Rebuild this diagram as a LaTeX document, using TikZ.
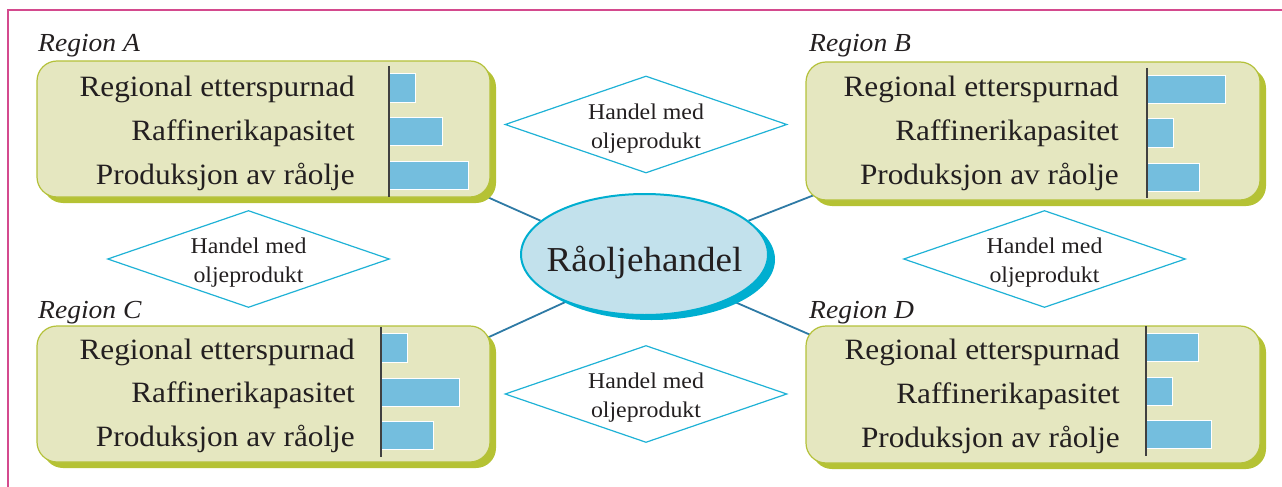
\documentclass[tikz,border=0pt]{standalone}
\usepackage{fontspec}
\setmainfont{Liberation Serif}[FakeStretch=1.06]
\usetikzlibrary{shapes.geometric,shadows,backgrounds}
\definecolor{framec}{RGB}{212,74,142}
\definecolor{boxfill}{RGB}{229,231,192}
\definecolor{boxline}{RGB}{180,193,58}
\definecolor{boxshadow}{RGB}{181,194,52}
\definecolor{barfill}{RGB}{116,190,222}
\definecolor{ellfill}{RGB}{194,225,236}
\definecolor{ellline}{RGB}{0,174,208}
\definecolor{connc}{RGB}{46,122,165}
\definecolor{diac}{RGB}{31,178,214}
\definecolor{txt}{RGB}{35,31,32}
\begin{document}
\begin{tikzpicture}[x=1pt,y=-1pt,
  every node/.style={text=txt},
  regionbox/.style={rectangle, rounded corners=20pt, draw=boxline, line width=1.2pt,
    fill=boxfill, minimum width=453pt, minimum height=136pt, inner sep=0pt,
    drop shadow={shadow xshift=6pt, shadow yshift=-6pt, fill=boxshadow, opacity=1}},
  hub/.style={ellipse, draw=ellline, line width=2pt, fill=ellfill,
    minimum width=247pt, minimum height=121pt, inner sep=0pt,
    drop shadow={shadow xshift=7pt, shadow yshift=-5pt, fill=ellline, opacity=1}},
  hubtext/.style={anchor=base, font=\fontsize{35}{40}\selectfont, inner sep=0pt},
  trade/.style={diamond, draw=diac, line width=1.2pt, fill=white, aspect=2.9,
    minimum width=282pt, minimum height=97pt, inner sep=0pt},
  tradetext/.style={inner sep=0pt, align=center, yshift=-4pt,
    font=\fontsize{22.5}{29}\selectfont},
  regname/.style={anchor=base west, inner sep=0pt, font=\fontsize{26}{30}\selectfont\itshape},
  rowlabel/.style={anchor=base east, inner sep=0pt, font=\fontsize{29.5}{34}\selectfont},
  bar/.style={fill=barfill, draw=white, line width=0.8pt},
  divider/.style={draw=black!75, line width=1.1pt},
  conn/.style={draw=connc, line width=1.8pt},
  framel/.style={draw=framec, line width=2pt}
]
\useasboundingbox (0,0) rectangle (1282,487);
% frame
\draw[framel] (8,487) -- (8,10) -- (1282,10);

% central hub
\node[hub] (E) at (644.5,254.5) {};
\node[hubtext] (Etext) at (644.5,271.5) {Råoljehandel};

% region boxes
\node[regionbox] (A) at (263.5,129) {};
\node[regionbox, minimum width=454pt, minimum height=138pt] (B) at (1033,131) {};
\node[regionbox] (C) at (263.5,394) {};
\node[regionbox, minimum width=454pt, minimum height=137pt] (D) at (1033,394.5) {};

% connectors (behind)
\begin{scope}[on background layer]
\draw[conn] (E.162) -- ([shift={(-20,-8)}]A.south east);
\draw[conn] (E.18) -- ([shift={(15,-8)}]B.south west);
\draw[conn] (E.211) -- ([shift={(-20,20)}]C.north east);
\draw[conn] (E.332) -- ([shift={(20,16)}]D.north west);
\end{scope}

% region names
\node[regname] (nA) at (38,52) {Region A};
\node[regname] (nB) at (809,52) {Region B};
\node[regname] (nC) at (38,318) {Region C};
\node[regname] (nD) at (809,318) {Region D};

% Region A content
\node[rowlabel] (A1) at (355,96.7) {Regional etterspurnad};
\node[rowlabel] (A2) at (355,140.7) {Raffinerikapasitet};
\node[rowlabel] (A3) at (355,184.3) {Produksjon av råolje};
\draw[bar] (389,73) rectangle (415,102);
\draw[bar] (389,117) rectangle (442,145);
\draw[bar] (389,161) rectangle (468,189);
\draw[divider] (389,66) -- (389,197);

% Region B content
\node[rowlabel] (B1) at (1119,96.7) {Regional etterspurnad};
\node[rowlabel] (B2) at (1119,140.3) {Raffinerikapasitet};
\node[rowlabel] (B3) at (1119,184.3) {Produksjon av råolje};
\draw[bar] (1147,75) rectangle (1225,103);
\draw[bar] (1147,118) rectangle (1173,147);
\draw[bar] (1147,163) rectangle (1199,191);
\draw[divider] (1147,68) -- (1147,198);

% Region C content
\node[rowlabel] (C1) at (355,359) {Regional etterspurnad};
\node[rowlabel] (C2) at (355,402.7) {Raffinerikapasitet};
\node[rowlabel] (C3) at (355,446.7) {Produksjon av råolje};
\draw[bar] (381,333) rectangle (407,362);
\draw[bar] (381,378) rectangle (459,406);
\draw[bar] (381,421) rectangle (433,449);
\draw[divider] (381,327) -- (381,457);

% Region D content
\node[rowlabel] (D1) at (1120,359) {Regional etterspurnad};
\node[rowlabel] (D2) at (1120,403) {Raffinerikapasitet};
\node[rowlabel] (D3) at (1120,447) {Produksjon av råolje};
\draw[bar] (1146,333) rectangle (1198,361);
\draw[bar] (1146,377) rectangle (1172,405);
\draw[bar] (1146,420) rectangle (1211,448);
\draw[divider] (1146,326) -- (1146,456);

% trade diamonds
\node[trade] (T1) at (646,124.5) {};
\node[tradetext] (T1t) at (T1) {Handel med\\oljeprodukt};
\node[trade] (T2) at (248.5,259) {};
\node[tradetext] (T2t) at (T2) {Handel med\\oljeprodukt};
\node[trade] (T3) at (1044.5,259) {};
\node[tradetext] (T3t) at (T3) {Handel med\\oljeprodukt};
\node[trade] (T4) at (646,394) {};
\node[tradetext] (T4t) at (T4) {Handel med\\oljeprodukt};
\end{tikzpicture}
\end{document}
